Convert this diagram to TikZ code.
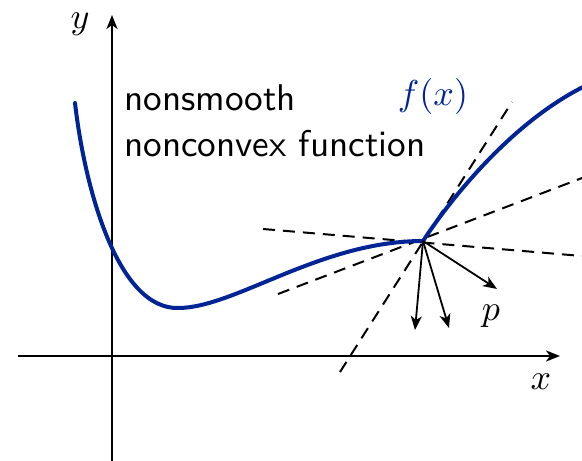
\documentclass[tikz,border=0pt]{standalone}
\usepackage{fontspec}
\usepackage{graphicx}
\usetikzlibrary{arrows.meta}
\definecolor{fblue}{RGB}{0,36,150}
\newcommand{\enlargetxt}[1]{\scalebox{3.6}{#1}}
\newcommand{\enlargesans}[1]{\scalebox{3.72}{#1}}
\begin{document}
\begin{tikzpicture}[x=1pt,y=-1pt,
  axis/.style={line width=2pt,-{Stealth[length=14pt,width=11pt,inset=4pt]}},
  vec/.style={line width=1.8pt,-{Stealth[length=14pt,width=11pt,inset=4pt]}},
  cone/.style={line width=2pt,dash pattern=on 12pt off 8pt},
  fcurve/.style={line width=4pt,fblue},
  lbl/.style={inner sep=0pt}]
\useasboundingbox (0,0) rectangle (582,461);
% axes
\coordinate (xs) at (18,356);
\coordinate (xe) at (560,356);
\coordinate (ys) at (112,461);
\coordinate (ye) at (112,15);
\draw[axis] (xs) -- (xe);
\draw[axis] (ys) -- (ye);
\node[lbl] (xl) at (541,382) {\enlargetxt{$x$}};
\node[lbl] (yl) at (80,24) {\enlargetxt{$y$}};
% kink
\coordinate (k) at (423,241);
% dashed lines
\coordinate (a1) at (263,229);
\coordinate (a2) at (582,256);
\coordinate (b1) at (278,294);
\coordinate (b2) at (582,178);
\coordinate (c1) at (340,372);
\coordinate (c2) at (512,102);
\draw[cone] (a1) -- (a2);
\draw[cone] (b1) -- (b2);
\draw[cone] (c1) -- (c2);
% curve
\coordinate (s) at (75,103);
\coordinate (m) at (178,308);
\coordinate (e) at (583,87);
\draw[fcurve,line cap=round] (s) .. controls (85,190) and (118,309) .. (m)
   .. controls (235,308) and (320,241) .. (k);
\draw[fcurve] (k) .. controls (450,200) and (510,124) .. (e);
% vectors
\coordinate (v1) at (415,330);
\coordinate (v2) at (449,328);
\coordinate (v3) at (497,289);
\draw[vec] (k) -- (v1);
\draw[vec] (k) -- (v2);
\draw[vec] (k) -- (v3);
\node[lbl] (pl) at (491,316) {\enlargetxt{$p$}};
\node[lbl,text=fblue] (fl) at (433,96) {\enlargetxt{$f(x)$}};
\node[lbl,anchor=base west] (txt) at (124,110) {\enlargesans{\sffamily\begin{tabular}[t]{@{}l@{}}nonsmooth\\[0.6pt]nonconvex function\end{tabular}}};
\end{tikzpicture}
\end{document}
